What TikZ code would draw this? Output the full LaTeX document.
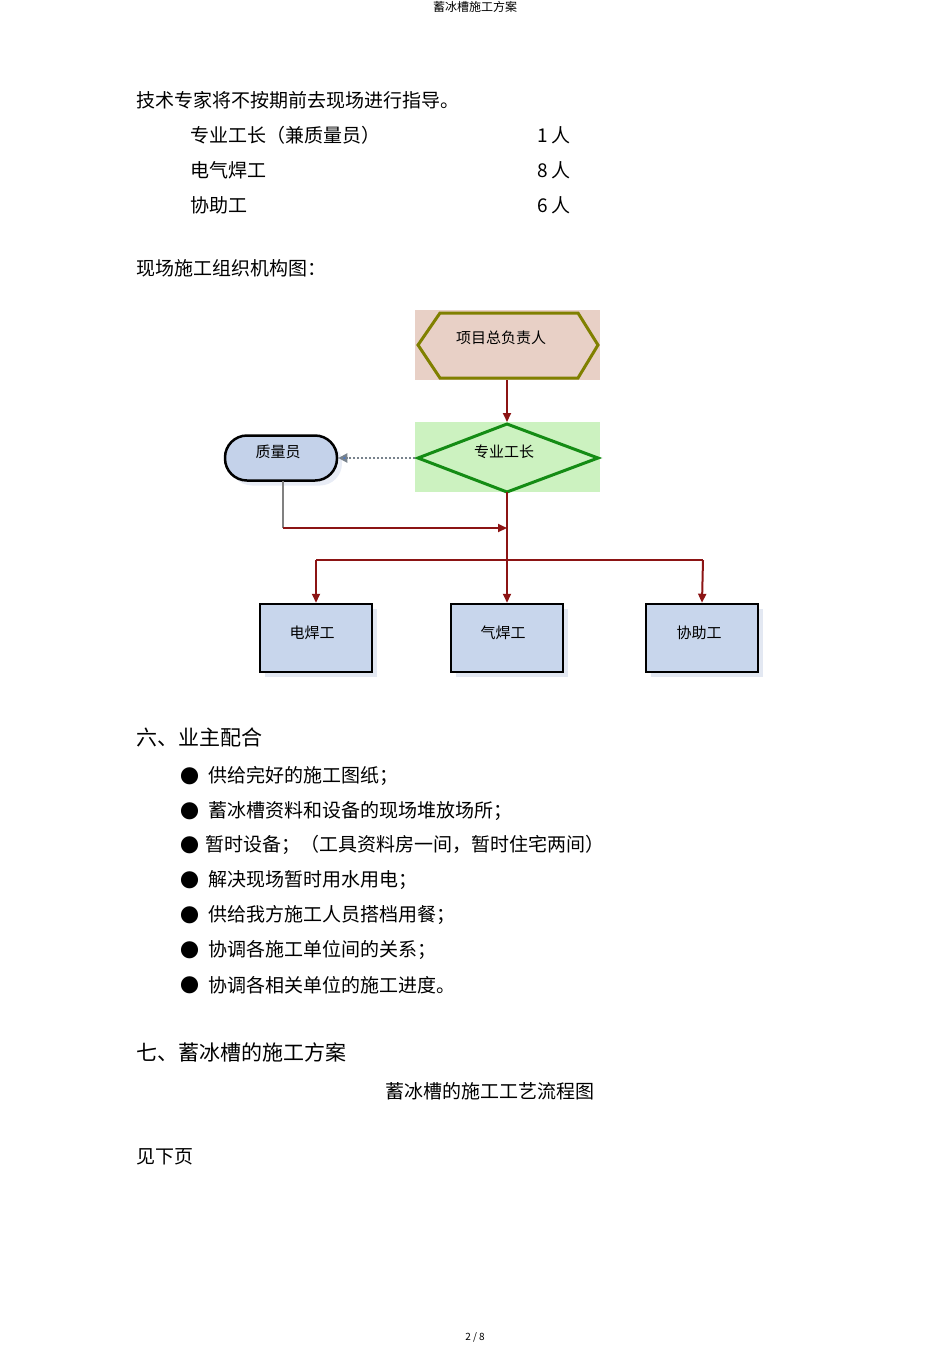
\documentclass[tikz,border=0pt]{standalone}
\usepackage{fontspec}
\setmainfont{Noto Sans CJK SC}
\usetikzlibrary{arrows.meta,shadows}
\definecolor{hexbg}{RGB}{232,208,198}
\definecolor{olive2}{RGB}{128,128,0}
\definecolor{diabg}{RGB}{204,242,192}
\definecolor{green2}{RGB}{20,140,20}
\definecolor{pillfill}{RGB}{196,210,234}
\definecolor{pillsh}{RGB}{210,218,236}
\definecolor{wfill}{RGB}{200,214,236}
\definecolor{wsh}{RGB}{200,210,230}
\definecolor{darkred2}{RGB}{140,20,20}
\definecolor{dotc}{RGB}{120,130,140}
\definecolor{bluetip}{RGB}{70,120,200}
\begin{document}
\begin{tikzpicture}[x=1pt,y=-1pt,
  body/.style={anchor=west,font=\fontsize{19}{19}\selectfont,inner sep=0},
  head/.style={anchor=west,font=\fontsize{21}{21}\selectfont,inner sep=0},
  lab/.style={font=\fontsize{15}{15}\selectfont,inner sep=0},
  rarrow/.style={draw=darkred2,line width=2pt,-{Triangle[length=9pt,width=8pt]}},
  worker/.style={draw=black,line width=2.5pt,fill=wfill,minimum width=112pt,minimum height=68pt,drop shadow={shadow xshift=5pt,shadow yshift=-5pt,fill=wsh}}]
\useasboundingbox (0,0) rectangle (950,1345);
\node[font=\fontsize{12}{12}\selectfont] (hdr) at (475,7) {蓄冰槽施工方案};
\node[body] (l1) at (136,100) {技术专家将不按期前去现场进行指导。};
\node[body] (r1) at (190,135) {专业工长（兼质量员）};
\node[body] (r2) at (190,170) {电气焊工};
\node[body] (r3) at (190,205) {协助工};
\node[body] (n1) at (537,135) {1 人};
\node[body] (n2) at (537,170) {8 人};
\node[body] (n3) at (537,205) {6 人};
\node[body] (l2) at (136,268) {现场施工组织机构图：};
% diagram
\fill[hexbg] (415,310) rectangle (600,380);
\draw[olive2,line width=3pt] (418,345) -- (440,313) -- (578,313) -- (598,345) -- (578,378) -- (440,378) -- cycle;
\node[lab] (pm) at (501,338) {项目总负责人};
\coordinate (pmb) at (507,380);
\fill[diabg] (415,422) rectangle (600,492);
\draw[green2,line width=3pt] (418,458) -- (507,424) -- (598,458) -- (507,492) -- cycle;
\node[lab] (fm) at (504,452) {专业工长};
\coordinate (fmt) at (507,422);
\coordinate (fmb) at (507,492);
\coordinate (fml) at (415,458);
\node[draw=black,line width=2.5pt,rounded corners=22pt,fill=pillfill,minimum width=112pt,minimum height=45pt,drop shadow={shadow xshift=5pt,shadow yshift=-5pt,fill=pillsh}] (qa) at (281,458) {};
\node[lab] (qat) at (278,452) {质量员};
\node[worker] (w1) at (316,638) {};
\node[worker] (w2) at (507,638) {};
\node[worker] (w3) at (702,638) {};
\node[lab] at (312,633) {电焊工};
\node[lab] at (503,633) {气焊工};
\node[lab] at (699,633) {协助工};
\draw[rarrow] (pmb) -- (fmt);
\draw[draw=dotc,line width=2pt,dotted,-{Triangle[length=9pt,width=9pt,fill=bluetip]}] (fml) -- (qa.east);
\coordinate (j1) at (507,528);
\coordinate (qb) at (283,481);
\draw[gray,line width=1.5pt] (qb) -- (283,528);
\draw[rarrow] (283,528) -- (j1);
\draw[rarrow] (fmb) -- (w2.north);
\draw[draw=darkred2,line width=2pt] (316,560) -- (703,560);
\draw[rarrow] (316,560) -- (w1.north);
\draw[rarrow] (703,560) -- (w3.north);
% text
\node[head] (s6) at (136,737) {六、业主配合};
\foreach \y/\t in {776/供给完好的施工图纸；,811/蓄冰槽资料和设备的现场堆放场所；,880/解决现场暂时用水用电；,915/供给我方施工人员搭档用餐；,950/协调各施工单位间的关系；,985/协调各相关单位的施工进度。}{
  \node[body] at (180,\y) {●};
  \node[body] at (208,\y) {\t};
}
\node[body] at (180,845) {●};
\node[body] at (205,845) {暂时设备；（工具资料房一间，暂时住宅两间）};
\node[head] (s7) at (136,1052) {七、蓄冰槽的施工方案};
\node[font=\fontsize{19}{19}\selectfont] (ft) at (490,1091) {蓄冰槽的施工工艺流程图};
\node[body] (see) at (136,1157) {见下页};
\node[font=\fontsize{10}{10}\selectfont] (pg) at (475,1337) {2 / 8};
\end{tikzpicture}
\end{document}
